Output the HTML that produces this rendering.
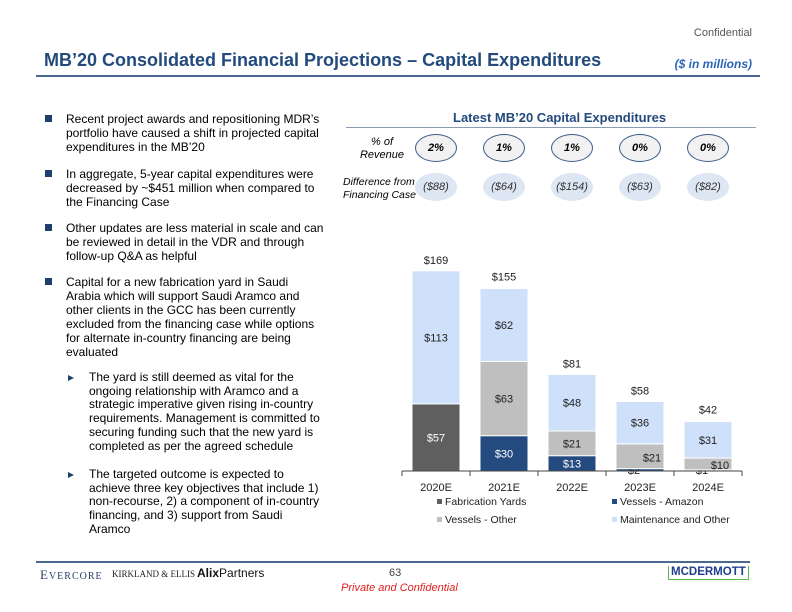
<!DOCTYPE html>
<html><head><meta charset="utf-8"><style>
body{margin:0;width:792px;height:612px;position:relative;background:#fff;font-family:"Liberation Sans",sans-serif;overflow:hidden}
.a{position:absolute}
.txt{font-size:12px;line-height:14px;color:#000;white-space:nowrap}
.sub{font-size:12px;line-height:13.7px;color:#000;white-space:nowrap}
.bul{position:absolute;left:45px;width:7px;height:7px;background:#1f3f6e}
.tri{position:absolute;left:68px;width:0;height:0;border-left:6px solid #1f3f6e;border-top:3.5px solid transparent;border-bottom:3.5px solid transparent}
.ov{position:absolute;width:42px;height:28px;border-radius:50%;font-size:11px;font-weight:bold;font-style:italic;display:flex;align-items:center;justify-content:center}
.o1{border:1.5px solid #3b5a86;background:#f2f2f2;box-sizing:border-box}
.o2{background:#dde6f3;color:#333;font-weight:normal}
</style></head><body>
<div class="a" style="right:40px;top:27px;font-size:11px;color:#555">Confidential</div>
<div class="a" style="left:44px;top:50px;font-size:18px;font-weight:bold;color:#234a7c">MB’20 Consolidated Financial Projections – Capital Expenditures</div>
<div class="a" style="right:40px;top:57px;font-size:12px;font-weight:bold;font-style:italic;color:#2a63b8">($ in millions)</div>
<div class="a" style="left:36px;top:75px;width:724px;height:2px;background:#4a6890"></div>

<div>
<div class="bul" style="top:115px"></div><div class="a txt" style="left:66px;top:112px">Recent project awards and repositioning MDR’s<br>portfolio have caused a shift in projected capital<br>expenditures in the MB’20</div>
<div class="bul" style="top:170px"></div><div class="a txt" style="left:66px;top:167px">In aggregate, 5-year capital expenditures were<br>decreased by ~$451 million when compared to<br>the Financing Case</div>
<div class="bul" style="top:224px"></div><div class="a txt" style="left:66px;top:221px">Other updates are less material in scale and can<br>be reviewed in detail in the VDR and through<br>follow-up Q&amp;A as helpful</div>
<div class="bul" style="top:278px"></div><div class="a txt" style="left:66px;top:275px">Capital for a new fabrication yard in Saudi<br>Arabia which will support Saudi Aramco and<br>other clients in the GCC has been currently<br>excluded from the financing case while options<br>for alternate in-country financing are being<br>evaluated</div>
<div class="tri" style="top:375px"></div><div class="a sub" style="left:89px;top:371px">The yard is still deemed as vital for the<br>ongoing relationship with Aramco and a<br>strategic imperative given rising in-country<br>requirements. Management is committed to<br>securing funding such that the new yard is<br>completed as per the agreed schedule</div>
<div class="tri" style="top:472px"></div><div class="a sub" style="left:89px;top:468px">The targeted outcome is expected to<br>achieve three key objectives that include 1)<br>non-recourse, 2) a component of in-country<br>financing, and 3) support from Saudi<br>Aramco</div>
</div>

<div class="a" style="left:453px;top:110px;font-size:13px;font-weight:bold;color:#234a7c">Latest MB’20 Capital Expenditures</div>
<div class="a" style="left:346px;top:127px;width:410px;height:1px;background:#8a9bb5"></div>
<div class="a" style="left:347px;top:136px;width:70px;text-align:center;font-size:11px;font-style:italic;line-height:13px">% of<br>Revenue</div>
<div class="a" style="left:343px;top:176px;font-size:10.5px;font-style:italic;line-height:13px;white-space:nowrap">Difference from<br>Financing Case</div>
<div id="ovals"></div>

<svg class="a" style="left:0;top:0" width="792" height="612" id="chart"></svg>

<div class="a" style="left:36px;top:561px;width:714px;height:2px;background:#4a6890"></div>
<div class="a" style="left:40px;top:567px;font-family:'Liberation Serif',serif;font-size:13px;color:#2a3d66;letter-spacing:1px">E<span style="font-size:10px">VERCORE</span></div>
<div class="a" style="left:112px;top:569px;font-family:'Liberation Serif',serif;font-size:9px;color:#222">KIRKLAND &amp; ELLIS</div>
<div class="a" style="left:197px;top:566px;font-size:12px;color:#111"><b>Alix</b>Partners</div>
<div class="a" style="left:389px;top:567px;font-size:11px;color:#444">63</div>
<div class="a" style="left:341px;top:582px;font-size:11px;font-style:italic;color:#e02020">Private and Confidential</div>
<div class="a" style="left:668px;top:566px;font-size:11.5px;font-weight:bold;color:#1f3f8e;border-bottom:1.5px solid #5cb84a;border-left:1.5px solid #5cb84a;border-right:1.5px solid #5cb84a;padding:0 2px;line-height:13px">MCDERMOTT</div>

<script>
const categories=["2020E","2021E","2022E","2023E","2024E"];
const fabrication=[57,0,0,0,0];
const vesselsAmazon=[0,30,13,2,1];
const vesselsOther=[0,63,21,21,10];
const maintenance=[113,62,48,36,31];
const totals=[169,155,81,58,42];
const pctRevenue=["2%","1%","1%","0%","0%"];
const diffFinancing=["($88)","($64)","($154)","($63)","($82)"];
const seriesNames=["Fabrication Yards","Vessels - Amazon","Vessels - Other","Maintenance and Other"];

const svg=document.getElementById('chart');
const NS='http://www.w3.org/2000/svg';
const base=471,scale=199/169,x0=402,step=68,bw=48;
const xc=i=>x0+step*i+step/2;
const y=v=>base-v*scale;
function mk(t,a){const e=document.createElementNS(NS,t);for(const k in a)e.setAttribute(k,a[k]);svg.appendChild(e);return e;}
function txt(s,x,yy,fill,anchor){const e=mk('text',{x:x,y:yy,fill:fill,'font-size':'11','text-anchor':anchor||'middle','font-family':'Liberation Sans, sans-serif'});e.textContent=s;return e;}

const series=[fabrication,vesselsAmazon,vesselsOther,maintenance];
const colors=["#5f5f5f","#244b7f","#bfbfbf","#cfe0fb"];
const labelColors=["#fff","#fff","#222","#222"];
const ov=document.getElementById('ovals');
categories.forEach((c,i)=>{
  let acc=0;
  series.forEach((s,k)=>{
    const v=s[i]; if(!v) return;
    const r=mk('rect',{x:xc(i)-bw/2,y:y(acc+v),width:bw,height:v*scale,fill:colors[k],stroke:'#fff','stroke-width':1});
    
    
    let lx=xc(i),ly=y(acc+v/2)+4,lc=labelColors[k];
    if(k===2 && vesselsAmazon[i]<5){ lx=xc(i)+12; ly=y(acc+v/2)+5; }
    else if(v*scale<14){ lx=xc(i)-6; ly=base+3; lc='#222'; }
    const t=txt('$'+v,lx,ly,lc);
    
    
    acc+=v;
  });
  const tt=txt('$'+totals[i],xc(i),y(totals[i])-8,'#222');
  
  
  const cl=txt(c,xc(i),491,'#222');
  
  
  const tk=mk('line',{x1:x0+step*i,x2:x0+step*i,y1:base,y2:base+5,stroke:'#444'});
  
  
  const cx=xc(i);
  const o1=document.createElement('div');o1.className='ov o1';o1.style.left=(cx-21)+'px';o1.style.top='134px';o1.textContent=pctRevenue[i];
  
  
  ov.appendChild(o1);
  const o2=document.createElement('div');o2.className='ov o2';o2.style.left=(cx-21)+'px';o2.style.top='173px';o2.textContent=diffFinancing[i];
  
  
  ov.appendChild(o2);
});
const ax=mk('line',{x1:x0,x2:x0+step*5,y1:base,y2:base,stroke:'#444'});


const tkEnd=mk('line',{x1:x0+step*5,x2:x0+step*5,y1:base,y2:base+5,stroke:'#444'});


const lp=[[437,503],[612,503],[437,521],[612,521]];
seriesNames.forEach((n,k)=>{
  const r=mk('rect',{x:lp[k][0],y:lp[k][1]-4,width:5,height:5,fill:colors[k]});
  
  
  const t=txt(n,lp[k][0]+8,lp[k][1]+2,'#222','start');
  t.setAttribute('font-size','10.5');
  
  
});
</script>
</body></html>
